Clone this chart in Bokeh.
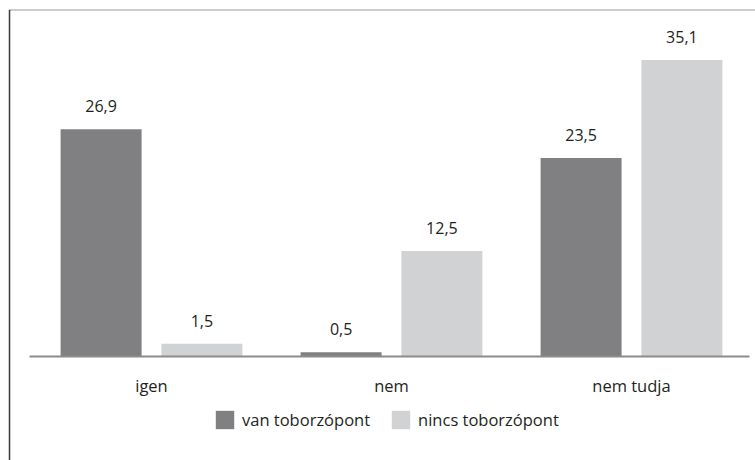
from bokeh.plotting import figure
from bokeh.models import ColumnDataSource, Range1d, FixedTicker, Legend, LegendItem, LabelSet, Spacer
from bokeh.layouts import row, column
from bokeh.core.properties import value
from bokeh.embed import file_html
from bokeh.resources import INLINE

categories = ["igen", "nem", "nem tudja"]
series_names = ["van toborzópont", "nincs toborzópont"]
van = [26.9, 0.5, 23.5]
nincs = [1.5, 12.5, 35.1]

DARK = "#808083"
LIGHT = "#d1d2d4"
TEXT = "#231f20"
FONT = "Open Sans"

idx = list(range(len(categories)))
fmt = lambda v: f"{v:.1f}".replace(".", ",")

src_van = ColumnDataSource(dict(x=[i - 0.21 for i in idx], top=van, lab=[fmt(v) for v in van]))
src_nincs = ColumnDataSource(dict(x=[i + 0.21 for i in idx], top=nincs, lab=[fmt(v) for v in nincs]))

p = figure(width=747, height=451, output_backend="svg", toolbar_location=None,
           x_range=Range1d(-0.5875, 2.5167), y_range=Range1d(-12.31, 40.95),
           min_border_left=2, min_border_top=1, min_border_right=0, min_border_bottom=0)
p.border_fill_color = "#3a3a3a"
p.background_fill_color = "white"
p.outline_line_color = None
p.grid.visible = False
p.yaxis.visible = False

r1 = p.vbar(x="x", top="top", width=0.3375, source=src_van, fill_color=DARK, line_color=None)
r2 = p.vbar(x="x", top="top", width=0.3375, source=src_nincs, fill_color=LIGHT, line_color=None)

for s in (src_van, src_nincs):
    p.add_layout(LabelSet(x="x", y="top", text="lab", source=s, text_align="center",
                          text_baseline="alphabetic", y_offset=17, text_font=value(FONT),
                          text_font_size="16px", text_color=TEXT))

ax = p.xaxis[0]
ax.fixed_location = 0
ax.bounds = (-0.51, 2.49)
ax.ticker = FixedTicker(ticks=idx)
ax.major_label_overrides = {i: c for i, c in zip(idx, categories)}
ax.major_tick_line_color = None
ax.minor_tick_line_color = None
ax.axis_line_color = "#8c8c8c"
ax.axis_line_width = 2
ax.major_label_standoff = 12
ax.major_label_text_font = FONT
ax.major_label_text_font_size = "16.5px"
ax.major_label_text_color = TEXT

legend = Legend(items=[LegendItem(label=series_names[0], renderers=[r1]),
                       LegendItem(label=series_names[1], renderers=[r2])],
                orientation="horizontal", location=(203, 29),
                glyph_width=23, glyph_height=23, label_standoff=6, spacing=19,
                padding=0, margin=0, border_line_color=None, background_fill_alpha=0,
                label_text_font=FONT, label_text_font_size="16.5px", label_text_color=TEXT)
p.add_layout(legend)

layout = row(Spacer(width=8), column(Spacer(height=9), p))

open("out.html", "w").write(file_html(layout, INLINE))
